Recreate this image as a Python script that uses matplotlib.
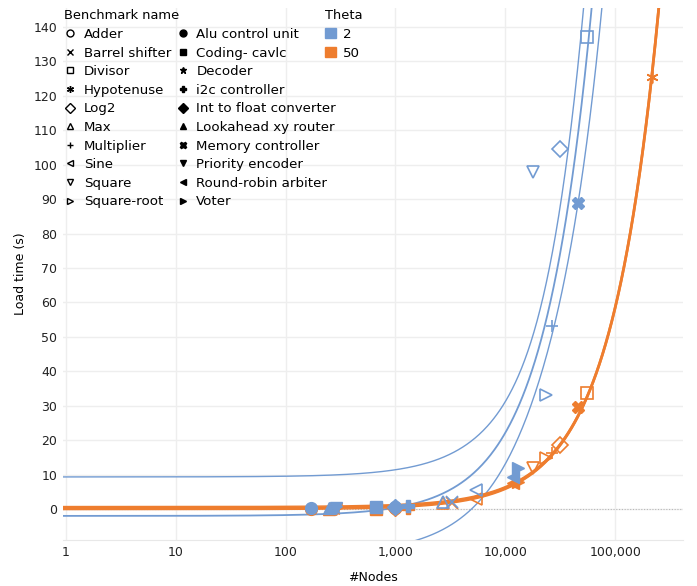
import numpy as np
import matplotlib.pyplot as plt
from matplotlib.lines import Line2D
from matplotlib.patches import Patch
from matplotlib.ticker import FixedLocator, NullLocator

plt.rcParams['font.family'] = 'DejaVu Sans'
plt.rcParams['font.size'] = 9

benchmarks = ['Adder', 'Barrel shifter', 'Divisor', 'Hypotenuse', 'Log2', 'Max',
              'Multiplier', 'Sine', 'Square', 'Square-root', 'Alu control unit',
              'Coding- cavlc', 'Decoder', 'i2c controller', 'Int to float converter',
              'Lookahead xy router', 'Memory controller', 'Priority encoder',
              'Round-robin arbiter', 'Voter']
nodes = [1000, 3300, 56000, 217000, 31600, 2730, 26700, 5400, 18000, 23600, 170,
         660, 285, 1290, 1000, 250, 46100, 290, 11800, 13100]
load_theta2 = [0.6, 2.0, 137.0, np.nan, 104.5, 2.0, 53.2, 5.5, 97.9, 33.1, 0.3,
               0.6, 0.3, 0.9, 0.6, 0.3, 88.9, 0.3, 9.3, 11.9]
load_theta50 = [0.3, 1.8, 33.7, 125.5, 18.6, 1.8, 16.3, 3.0, 11.9, 14.8, 0.0,
                0.0, 0.0, 0.3, 0.3, 0.0, 29.6, 0.0, 7.5, 7.8]
markers = ['o', 'x', 's', (6, 2, 0), 'D', '^', '+', '<', 'v', '>',
           'o', 's', '*', 'P', 'D', '^', 'X', 'v', '<', '>']
filled = [False] * 10 + [True] * 10

blue = '#729bd2'
orange = '#ee7d2e'


def trend(x, y, xs, t95=2.11):
    x = np.asarray(x, float)
    y = np.asarray(y, float)
    ok = ~np.isnan(y)
    x, y = x[ok], y[ok]
    n = len(x)
    b, a = np.polyfit(x, y, 1)
    s = np.sqrt(np.sum((y - (a + b * x)) ** 2) / (n - 2))
    sxx = np.sum((x - x.mean()) ** 2)
    w = t95 * s * np.sqrt(1 / n + (xs - x.mean()) ** 2 / sxx)
    fit = a + b * xs
    return fit, fit - w, fit + w


fig = plt.figure(figsize=(6.97, 5.86), dpi=100)
ax = fig.add_axes([63 / 697, 1 - 540 / 586, 620 / 697, 532 / 586])
ax.set_xscale('log')
xmin, xmax = 0.94, 415000
ax.set_xlim(xmin, xmax)
ax.set_ylim(-9, 145.5)

xs = np.logspace(np.log10(xmin), np.log10(xmax), 600)
fit, lo, hi = trend(nodes, load_theta2, xs)
ax.plot(xs, fit, color=blue, lw=1.3, zorder=3)
ax.plot(xs, lo, color=blue, lw=1.0, zorder=3)
ax.plot(xs, hi, color=blue, lw=1.0, zorder=3)
fit, lo, hi = trend(nodes, load_theta50, xs)
ax.plot(xs, fit, color=orange, lw=2.0, zorder=3)
ax.plot(xs, lo, color=orange, lw=1.0, zorder=3)
ax.plot(xs, hi, color=orange, lw=1.0, zorder=3)

for vals, col in [(load_theta50, orange), (load_theta2, blue)]:
    for i in range(len(benchmarks)):
        if np.isnan(vals[i]):
            continue
        m = markers[i]
        if filled[i]:
            ax.plot(nodes[i], vals[i], marker=m, ms=8.5, color=col, mec=col,
                    ls='none', zorder=4)
        else:
            ax.plot(nodes[i], vals[i], marker=m, ms=8.5, mfc='none', mec=col,
                    mew=1.2, ls='none', zorder=4)

ax.axhline(0, color='#b8b8b8', lw=0.8, ls=(0, (1, 1.5)), zorder=2)

xt = [1, 10, 100, 1000, 10000, 100000]
ax.xaxis.set_major_locator(FixedLocator(xt))
ax.xaxis.set_minor_locator(NullLocator())
ax.set_xticklabels(['{:,}'.format(v) for v in xt])
ax.set_yticks(np.arange(0, 141, 10))
ax.tick_params(length=0, labelsize=9, colors='#222222', pad=4)
ax.grid(True, color='#eeeeee', lw=1)
ax.set_axisbelow(True)
for sp in ['left', 'right', 'top']:
    ax.spines[sp].set_visible(False)
ax.spines['bottom'].set_color('#e8e8e8')
ax.set_xlabel('#Nodes', fontsize=9, labelpad=9)
ax.set_ylabel('Load time (s)', fontsize=9, labelpad=5)

handles = []
for i in range(len(benchmarks)):
    if filled[i]:
        h = Line2D([], [], marker=markers[i], ls='none', color='black', ms=5)
    else:
        h = Line2D([], [], marker=markers[i], ls='none', mfc='none', mec='black',
                   mew=1.0, ms=5)
    handles.append(h)
leg1 = ax.legend(handles, benchmarks, ncol=2, title='Benchmark name', loc='upper left',
                 bbox_to_anchor=(0.0, 1.0), frameon=False, borderpad=0.1,
                 borderaxespad=0, handlelength=0.9, handletextpad=0.55,
                 columnspacing=0.45, labelspacing=0.42, fontsize=9.6,
                 title_fontsize=9.4, alignment='left')
ax.add_artist(leg1)
theta_handles = [Patch(color=blue), Patch(color=orange)]
ax.legend(theta_handles, ['2', '50'], title='Theta', loc='upper left',
          bbox_to_anchor=(261 / 620, 1.0), frameon=False, borderpad=0.1,
          borderaxespad=0, handlelength=0.8, handleheight=0.8, handletextpad=0.5,
          labelspacing=0.42, fontsize=9.6, title_fontsize=9.4, alignment='left')

fig.savefig('out.png', dpi=100)
